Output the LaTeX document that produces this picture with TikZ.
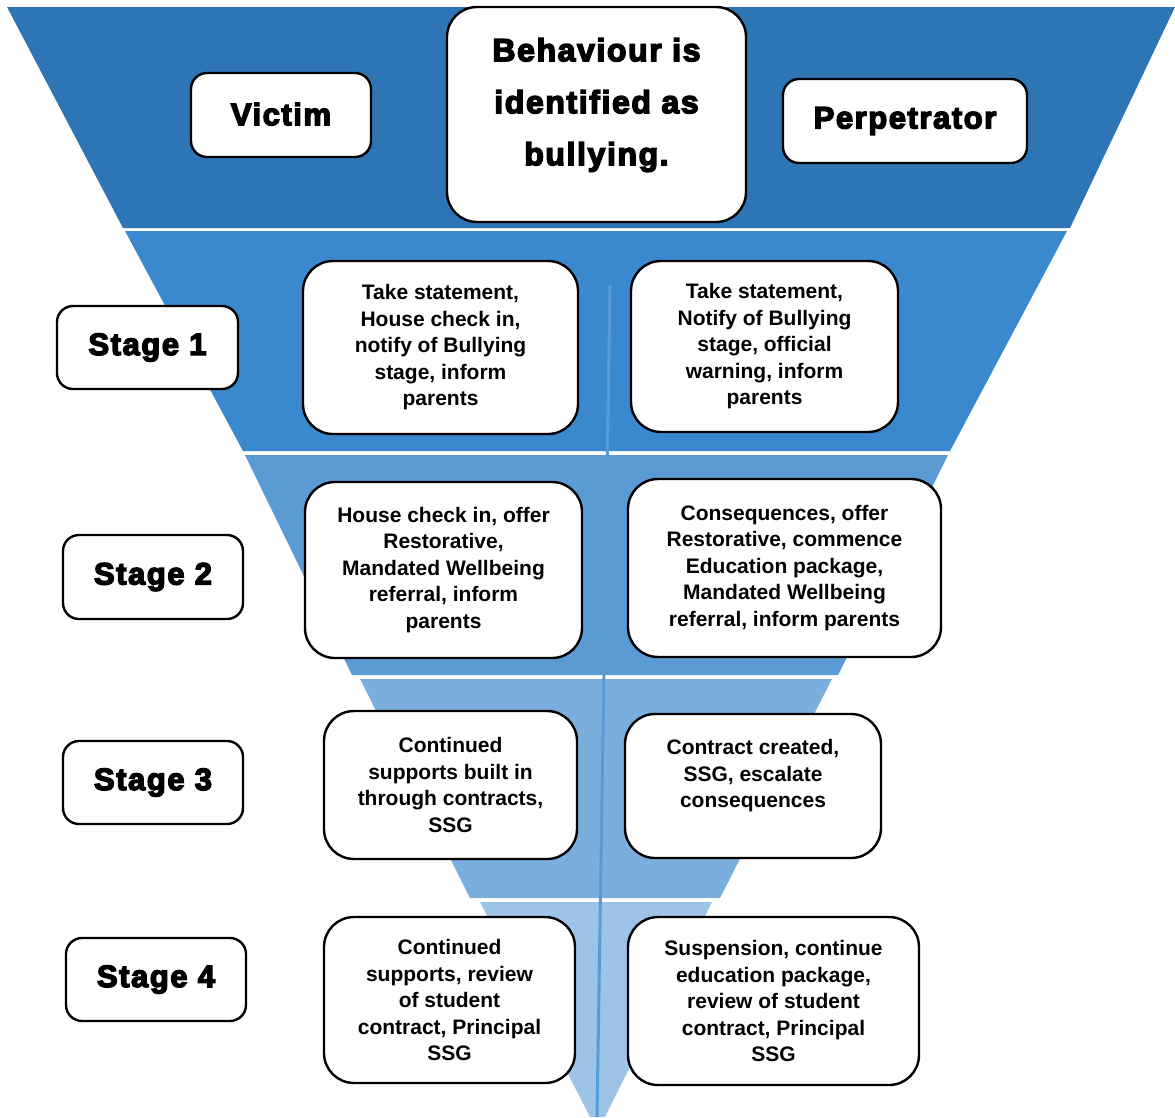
\documentclass[tikz,border=0pt]{standalone}
\usepackage{fontspec}
\setmainfont{Liberation Sans}
\newfontfamily\heavyfont{Liberation Sans Bold}[FakeBold=4.5,LetterSpace=5]
\definecolor{bandA}{HTML}{2E75B6}
\definecolor{bandB}{HTML}{3A88CD}
\definecolor{bandC}{HTML}{5B9BD5}
\definecolor{bandD}{HTML}{7AAEDD}
\definecolor{bandE}{HTML}{9DC3E6}
\definecolor{axisline}{HTML}{5B9BD5}
\begin{document}
\begin{tikzpicture}[x=1pt,y=-1pt,
  band/.style={fill=#1,draw=none},
  bigbox/.style={draw=black,line width=2.4pt,fill=white,rounded corners=16pt,inner sep=0pt,align=center,
    font=\heavyfont\fontsize{31}{40}\selectfont},
  stepbox/.style={draw=black,line width=2.4pt,fill=white,rounded corners=30pt,inner sep=0pt,align=center,
    font=\bfseries\fontsize{21}{26.5}\selectfont},
  plaintext/.style={inner sep=0pt,align=center,font=\bfseries\fontsize{21}{26.5}\selectfont}]
\useasboundingbox (0,0) rectangle (1175,1117);
% funnel bands
\fill[bandA] (7,7) -- (1175,7) -- (1070,228) -- (123,228) -- cycle;
\fill[bandB] (125,231) -- (1067,231) -- (950,451) -- (243,451) -- cycle;
\fill[bandC] (245,455) -- (948,455) -- (838,675) -- (352,675) -- cycle;
\fill[bandD] (360,679) -- (832,679) -- (720,898) -- (470,898) -- cycle;
\fill[bandE] (480,902) -- (712,902) -- (605,1117) -- (590,1117) -- cycle;
% central axis
\coordinate (axtop) at (610,285);
\coordinate (axbot) at (597,1117);
\draw[axisline,line width=3pt] (axtop) -- (axbot);
% top row
\node[bigbox,rounded corners=30pt,minimum width=299pt,minimum height=215pt] (main) at (596.5,114.5) {};
\node[inner sep=0pt,align=center,font=\heavyfont\fontsize{32}{52}\selectfont] (maintext) at (596.5,105)
  {Behaviour is\\identified as\\bullying.};
\node[bigbox,minimum width=180pt,minimum height=84pt] (victim) at (281,115) {\raisebox{2pt}{Victim}};
\node[bigbox,minimum width=244pt,minimum height=84pt] (perp) at (905,121) {\raisebox{2pt}{Perpetrator}};
% stage labels
\node[bigbox,minimum width=181pt,minimum height=83pt] (s1) at (147.5,347.5) {\raisebox{2pt}{Stage 1}};
\node[bigbox,minimum width=180pt,minimum height=84pt] (s2) at (153,577) {\raisebox{2pt}{Stage 2}};
\node[bigbox,minimum width=180pt,minimum height=83pt] (s3) at (153,782.5) {\raisebox{2pt}{Stage 3}};
\node[bigbox,minimum width=180pt,minimum height=83pt] (s4) at (156,979.5) {\raisebox{2pt}{Stage 4}};
% stage 1
\node[stepbox,minimum width=275pt,minimum height=173pt] (s1v) at (440.5,347.5)
  {Take statement,\\House check in,\\notify of Bullying\\stage, inform\\parents};
\node[stepbox,minimum width=267pt,minimum height=171pt] (s1p) at (764.5,346.5)
  {Take statement,\\Notify of Bullying\\stage, official\\warning, inform\\parents};
% stage 2
\node[stepbox,minimum width=277pt,minimum height=176pt] (s2v) at (443.5,570)
  {House check in, offer\\Restorative,\\Mandated Wellbeing\\referral, inform\\parents};
\node[stepbox,minimum width=313pt,minimum height=178pt] (s2p) at (784.5,568)
  {Consequences, offer\\Restorative, commence\\Education package,\\Mandated Wellbeing\\referral, inform parents};
% stage 3
\node[stepbox,minimum width=253pt,minimum height=148pt] (s3v) at (450.5,785)
  {Continued\\supports built in\\through contracts,\\SSG};
\node[stepbox,minimum width=256pt,minimum height=144pt] (s3p) at (753,786) {};
\node[plaintext] (s3ptext) at (753,776) {Contract created,\\SSG, escalate\\consequences};
% stage 4
\node[stepbox,minimum width=251pt,minimum height=166pt] (s4v) at (449.5,1000)
  {Continued\\supports, review\\of student\\contract, Principal\\SSG};
\node[stepbox,minimum width=291pt,minimum height=168pt] (s4p) at (773.5,1001)
  {Suspension, continue\\education package,\\review of student\\contract, Principal\\SSG};
\end{tikzpicture}
\end{document}
